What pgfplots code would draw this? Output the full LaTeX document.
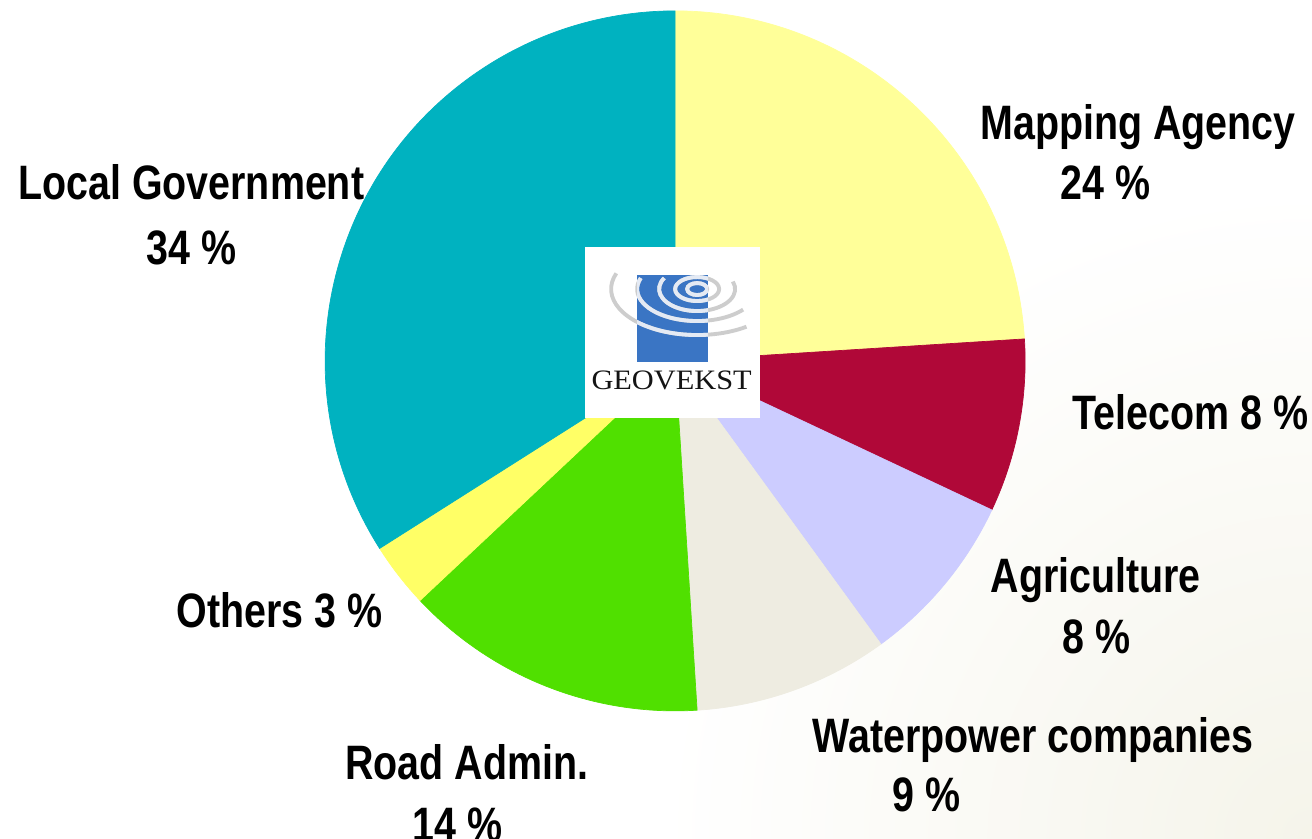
\documentclass[border=0pt]{standalone}
\usepackage{pgfplots}
\pgfplotsset{compat=1.18}
\usepackage{pgfplotstable}
\usepackage{fontspec}
\setmainfont{Liberation Sans}
\newfontfamily\lab[FakeStretch=0.815]{Liberation Sans}
\newfontfamily\logofont[FakeStretch=1.08]{Liberation Serif}
\definecolor{cLoc}{RGB}{0,178,192}
\definecolor{cMap}{RGB}{255,255,153}
\definecolor{cTel}{RGB}{176,8,56}
\definecolor{cAgr}{RGB}{204,204,255}
\definecolor{cWat}{RGB}{238,236,225}
\definecolor{cRoa}{RGB}{80,224,0}
\definecolor{cOth}{RGB}{255,255,102}
\definecolor{logoblue}{RGB}{58,117,196}
\definecolor{bgbeige}{RGB}{245,244,234}
\pgfplotstableread[col sep=comma]{
name,value,color
Mapping Agency,24,cMap
Telecom,8,cTel
Agriculture,8,cAgr
Waterpower companies,9,cWat
Road Admin.,14,cRoa
Others,3,cOth
Local Government,34,cLoc
}\piedata
\begin{document}
\begin{tikzpicture}
\useasboundingbox (0,0) rectangle (26.24,16.78);
\clip (0,0) rectangle (26.24,16.78);
\fill[white] (0,0) rectangle (26.24,16.78);
\shade[inner color=bgbeige, outer color=white] (26.24,0) circle (13cm);
\begin{axis}[
  at={(0,0)}, anchor=south west,
  x=0.02cm, y=0.02cm,
  xmin=0, xmax=1312, ymin=0, ymax=839,
  hide axis, clip=false, enlargelimits=false,
]
\def\startang{90}
\pgfplotsforeachungrouped \i in {0,...,6}{%
  \pgfplotstablegetelem{\i}{value}\of\piedata \let\v\pgfplotsretval
  \pgfplotstablegetelem{\i}{color}\of\piedata \let\c\pgfplotsretval
  \pgfmathsetmacro\endang{\startang-3.6*\v}%
  \edef\temp{\noexpand\fill[\c, draw=\c, line width=0.4pt] (axis cs:675,478) -- ++(\startang:7cm) arc[start angle=\startang, end angle=\endang, radius=7cm] -- cycle;}%
  \temp
  \global\let\startang\endang
}
\tikzset{lbl/.style={anchor=base west, inner sep=0pt, font=\lab\bfseries\fontsize{27.5}{32}\selectfont}}
\node[lbl] at (axis cs:980,699) {Mapping Agency};
\node[lbl] at (axis cs:1060,639) {24 \%};
\node[lbl] at (axis cs:18,639) {Local Government};
\node[lbl] at (axis cs:146,574) {34 \%};
\node[lbl] at (axis cs:1072,409) {Telecom 8 \%};
\node[lbl] at (axis cs:990,246) {Agriculture};
\node[lbl] at (axis cs:1062,185) {8 \%};
\node[lbl] at (axis cs:812,86) {Waterpower companies};
\node[lbl] at (axis cs:892,27) {9 \%};
\node[lbl] at (axis cs:176,211) {Others 3 \%};
\node[lbl] at (axis cs:345,59) {Road Admin.};
\node[lbl] at (axis cs:412,-3) {14 \%};
\end{axis}
% logo (decoration), pixel coordinates with y downward
\begin{scope}[shift={(0,16.78)}, x=0.02cm, y=-0.02cm]
\fill[white] (585,247) rectangle (760,418);
\fill[logoblue] (637,275) rectangle (708,362);
\tikzset{arcs/.style={line width=2.2pt}}
\def\logoarcs{%
  \draw[arcs] (697,289) ellipse [x radius=10, y radius=6];
  \draw[arcs] (697,289) ellipse [x radius=22, y radius=12];
  \draw[arcs] (697,289) ++(210:38 and 22) arc[start angle=210, end angle=-20, x radius=38, y radius=22];
  \draw[arcs] (697,289) ++(200:60 and 32) arc[start angle=200, end angle=40, x radius=60, y radius=32];
  \draw[arcs] (697,289) ++(200:86 and 46) arc[start angle=200, end angle=55, x radius=86, y radius=46];
}
\begin{scope}[draw={rgb,255:red,205;green,205;blue,205}]
\logoarcs
\end{scope}
\begin{scope}
\clip (637,275) rectangle (708,362);
\begin{scope}[draw={rgb,255:red,228;green,234;blue,244}]
\logoarcs
\end{scope}
\end{scope}
\node[anchor=base, inner sep=0pt, font=\logofont\fontsize{16}{18}\selectfont, text={rgb,255:red,20;green,20;blue,20}] at (671.5,389) {GEOVEKST};
\end{scope}
\end{tikzpicture}
\end{document}
